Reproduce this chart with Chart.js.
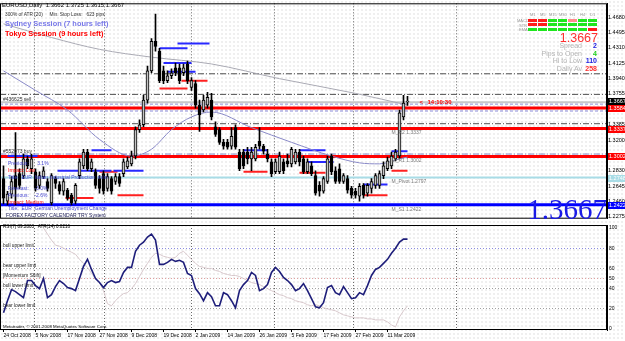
<!DOCTYPE html>
<html>
<head>
<meta charset="utf-8">
<title>EURUSD Daily</title>
<script src="https://cdn.jsdelivr.net/npm/chart.js@4.4.1/dist/chart.umd.min.js"></script>
<style>
  html, body { margin: 0; padding: 0; }
  body {
    width: 625px; height: 341px; overflow: hidden; position: relative; background: #fff;
    background-image: radial-gradient(circle, #dcdcdc 0.6px, transparent 0.8px);
    background-size: 4px 4px;
    font-family: "Liberation Sans", Arial, sans-serif;
  }
  canvas { position: absolute; left: 0; }
  #priceChart { top: 0; }
  #rsiChart { top: 221px; }
  .t { position: absolute; white-space: pre; line-height: 1; }
  #mainLayer { position: absolute; left: 0; top: 0; width: 607px; height: 220px; overflow: hidden; }
  .cell { position: absolute; width: 9px; height: 3px; }
  .hd { position: absolute; font-size: 4px; color: #999; }
  .lbl { right: 43px; font-size: 7px; color: #b4b4b4; }
  .val { right: 28px; font-size: 7px; font-weight: bold; }
  .cal { font-size: 5px; color: #4646d2; }
</style>
</head>
<body>
<canvas id="priceChart" width="625" height="222"></canvas>
<canvas id="rsiChart" width="625" height="120"></canvas>

<div id="mainLayer">
  <div class="t" style="left:2px;top:2px;font-size:6px;color:#000">EURUSD,Daily  1.3662 1.3725 1.3615 1.3667</div>
  <div class="t" style="left:5px;top:13px;font-size:4.8px;color:#333">300% of ATR (20)     Min. Stop Loss:   623 pips</div>
  <div class="t" style="left:5px;top:20px;font-size:7.4px;font-weight:bold;color:#7878e8">Sydney Session (7 hours left)</div>
  <div class="t" style="left:5px;top:30px;font-size:7.4px;font-weight:bold;color:#ff0000">Tokyo Session (9 hours left)</div>

  <div class="t cal" style="left:8px;top:161px">Previous:      3.1%</div>
  <div class="t cal" style="left:8px;top:168px;color:#ff0000">Impact: Low</div>
  <div class="t cal" style="left:8px;top:175px">Title:  EUR  Italian Industrial Production  m/m</div>
  <div class="t cal" style="left:8px;top:186px">Forecast:    -3.0%</div>
  <div class="t cal" style="left:8px;top:193px">Previous:    -2.6%</div>
  <div class="t cal" style="left:8px;top:200px;color:#ff0000">Impact: Medium</div>
  <div class="t cal" style="left:8px;top:206px">Title:  EUR  German Unemployment Change</div>
  <div class="t" style="left:6px;top:213px;font-size:5px;color:#20205a">FOREX FACTORY CALENDAR TRY System</div>

  <div class="t" style="right:0;top:195px;font-family:'Liberation Serif',serif;font-size:29px;color:#1a1ae6">1.3667</div>
</div>

<!-- timeframe signal box, top right -->
<div class="hd" style="left:530px;top:12px">M1</div>
<div class="hd" style="left:540px;top:12px">M5</div>
<div class="hd" style="left:549px;top:12px">M15</div>
<div class="hd" style="left:559px;top:12px">M30</div>
<div class="hd" style="left:570px;top:12px">H1</div>
<div class="hd" style="left:580px;top:12px">H4</div>
<div class="hd" style="left:590px;top:12px">D1</div>
<div class="hd" style="left:517px;top:18px">MACD</div>
<div class="hd" style="left:519px;top:22.5px">STR</div>
<div class="hd" style="left:519px;top:27px">EMA</div>
<div id="cells"></div>
<div class="t" style="right:27px;top:32px;font-size:12.5px;color:#ff3030">1.3667</div>
<div class="t lbl" style="top:42px">Spread</div>
<div class="t val" style="top:42px;color:#2020e0">2</div>
<div class="t lbl" style="top:49.5px">Pips to Open</div>
<div class="t val" style="top:49.5px;color:#20d020">4</div>
<div class="t lbl" style="top:57px">Hi to Low</div>
<div class="t val" style="top:57px;color:#2020e0">110</div>
<div class="t lbl" style="top:64.5px">Daily Av</div>
<div class="t val" style="top:64.5px;color:#ff3030">258</div>

<!-- indicator window texts -->
<div class="t" style="left:3px;top:225px;font-size:4.6px;color:#000">RSI(7) 89.2803   ATR(14) 0.0216</div>
<div class="t" style="left:3px;top:325px;font-size:4.4px;color:#000">Metatrader, © 2001-2008 MetaQuotes Software Corp.</div>

<script>
// daily candles, 24 Oct 2008 .. 12 Mar 2009
const opens = [1.2736,1.2465,1.2548,1.2771,1.2795,1.2771,1.2972,1.2854,1.2818,1.2654,
  1.2760,1.2701,1.2442,1.2736,1.2665,1.2583,1.2595,1.2536,1.2465,1.2771,
  1.2889,1.3054,1.2854,1.2818,1.2736,1.2795,1.2618,1.2736,1.2701,1.2760,
  1.2795,1.2877,1.2913,1.3007,1.3325,1.3384,1.3679,1.4032,1.4386,1.4268,
  1.4032,1.3914,1.3973,1.4068,1.4068,1.4009,1.4115,1.3832,1.3879,1.3620,
  1.3561,1.3620,1.3679,1.3360,1.3325,1.3172,1.3172,1.3125,1.3349,1.3054,
  1.3054,1.3054,1.2972,1.2972,1.3184,1.3125,1.3031,1.2936,1.2818,1.2818,
  1.2936,1.2948,1.2913,1.2936,1.3054,1.2972,1.2818,1.2889,1.2771,1.2654,
  1.2583,1.2701,1.3007,1.2830,1.2854,1.2701,1.2736,1.2618,1.2583,1.2524,
  1.2654,1.2559,1.2618,1.2654,1.2654,1.2771,1.2854,1.2889,1.2972,1.3007,
  1.3478,1.3662];
const highs = [1.2889,1.2583,1.2760,1.3290,1.2854,1.3031,1.3007,1.3031,1.2854,1.2818,
  1.2877,1.2736,1.2795,1.2760,1.2701,1.2736,1.2618,1.2559,1.2677,1.2972,
  1.3089,1.3089,1.2972,1.2854,1.2771,1.2830,1.2795,1.2760,1.2795,1.2795,
  1.2972,1.2995,1.3066,1.3360,1.3443,1.3738,1.4091,1.4421,1.4716,1.4303,
  1.4091,1.4032,1.4056,1.4126,1.4115,1.4115,1.4150,1.3950,1.3914,1.3679,
  1.3738,1.3773,1.3761,1.3419,1.3349,1.3207,1.3207,1.3349,1.3384,1.3089,
  1.3089,1.3113,1.3113,1.3148,1.3349,1.3148,1.3089,1.2972,1.2972,1.3054,
  1.2972,1.3031,1.3113,1.3089,1.3089,1.3007,1.2972,1.2936,1.2830,1.2701,
  1.2760,1.3007,1.3031,1.2877,1.2913,1.2795,1.2771,1.2642,1.2618,1.2677,
  1.2677,1.2677,1.2736,1.2795,1.2830,1.2936,1.2995,1.3054,1.3089,1.3561,
  1.3738,1.3725];
const lows = [1.2430,1.2418,1.2501,1.2418,1.2618,1.2736,1.2854,1.2795,1.2583,1.2618,
  1.2736,1.2583,1.2418,1.2618,1.2548,1.2536,1.2477,1.2418,1.2430,1.2736,
  1.2854,1.2830,1.2818,1.2618,1.2559,1.2548,1.2583,1.2548,1.2665,1.2642,
  1.2760,1.2854,1.2889,1.2972,1.3290,1.3360,1.3643,1.4009,1.4268,1.3891,
  1.3879,1.3891,1.3938,1.3973,1.3879,1.3973,1.3879,1.3797,1.3584,1.3302,
  1.3537,1.3584,1.3443,1.3243,1.3148,1.3089,1.3089,1.3089,1.3089,1.2830,
  1.2854,1.2913,1.2830,1.2948,1.3089,1.3031,1.2936,1.2760,1.2795,1.2795,
  1.2795,1.2877,1.2877,1.2913,1.2889,1.2795,1.2795,1.2771,1.2536,1.2524,
  1.2559,1.2677,1.2783,1.2677,1.2677,1.2677,1.2559,1.2501,1.2501,1.2465,
  1.2501,1.2524,1.2559,1.2618,1.2618,1.2736,1.2830,1.2854,1.2948,1.2972,
  1.3443,1.3615];
const closes = [1.2501,1.2548,1.2701,1.2618,1.2654,1.2972,1.2889,1.2972,1.2618,1.2771,
  1.2830,1.2618,1.2771,1.2677,1.2583,1.2701,1.2501,1.2442,1.2654,1.2936,
  1.3054,1.2854,1.2936,1.2654,1.2618,1.2583,1.2760,1.2583,1.2760,1.2677,
  1.2936,1.2948,1.3007,1.3325,1.3384,1.3679,1.4032,1.4386,1.4327,1.3914,
  1.3914,1.3973,1.4009,1.4009,1.3914,1.4068,1.3914,1.3914,1.3620,1.3502,
  1.3679,1.3714,1.3478,1.3266,1.3172,1.3125,1.3113,1.3243,1.3113,1.2854,
  1.2889,1.2972,1.3054,1.3113,1.3125,1.3066,1.2972,1.2795,1.2936,1.3007,
  1.2830,1.2913,1.3089,1.3054,1.2936,1.2818,1.2936,1.2795,1.2559,1.2583,
  1.2736,1.2972,1.2818,1.2701,1.2701,1.2771,1.2595,1.2536,1.2536,1.2642,
  1.2536,1.2654,1.2701,1.2771,1.2795,1.2889,1.2948,1.3007,1.3054,1.3526,
  1.3643,1.3667];

// moving averages read at a few bars
const maSlowBars = [0, 12, 24, 37, 52, 69, 88, 101];
const maSlow = [1.4598, 1.4433, 1.4291, 1.4197, 1.4115, 1.3938, 1.3761, 1.3620];
const maFastBars = [0, 8, 16, 24, 32, 37, 42, 47, 52, 62, 72, 82, 89, 94, 99, 101];
const maFast = [1.4032, 1.3797, 1.3561, 1.3207, 1.3007, 1.3089, 1.3325, 1.3478, 1.3537, 1.3349, 1.3172, 1.3007, 1.2925, 1.2913, 1.2972, 1.2995];

// indicator window
const rsi = [16,28,39,37,34,31,48,48,43,40,
  50,31,34,42,48,45,41,40,38,50,
  62,69,59,50,46,41,46,48,46,47,
  56,61,61,77,83,86,91,94,88,64,
  64,66,69,67,68,66,55,53,40,35,
  28,36,32,23,23,36,34,28,21,38,
  44,48,56,53,38,40,44,56,61,57,
  51,48,44,38,40,45,38,30,22,21,
  26,41,43,36,34,42,36,30,31,36,
  34,43,53,59,61,65,69,75,80,86,
  89,89];
const atr = [null,null,null,null,null,null,null,null,null,null,
  100,94,88,83,82,80,78,76,74,69,
  65,61,55,50,46,38,25,23,28,32,
  35,36,40,45,52,59,65,71,75,74,
  72,71,70,71,75,77,73,69,65,62,
  61,60,60,58,57,55,54,53,53,52,
  50,48,46,45,44,42,40,38,36,34,
  33,31,30,28,27,26,24,23,24,23,
  21,20,19,18,16,14,13,12,11,11,
  11,10,10,9,9,9,7,4,2,12,
  18,23];
const rsiLevels = [80, 60, 50, 40, 20];
const rsiLevelNames = ['bull upper limit', 'bear upper limit', '[Momentum Shift]', 'bull lower limit', 'bear lower limit'];
const rsiTicks = [0, 20, 40, 50, 60, 80, 100];

// price levels
const currentPrice = 1.3667;
const redLevels = [1.3584, 1.3337, 1.3002];
const pivotLevel = 1.2748;
const supportLevel = 1.2422;
const dashDotLevels = [1.3997, 1.3749, 1.3396];
const orderLevels = [1.3655, 1.3031];
const orderNames = ['#436625 sell', '#552073 buy'];
const dottedLevels = [1.3632, 1.3549];
const pivotNotes = ['M_R2 1.3337', 'M_R1 1.3002', 'M_Pivot 1.2797', 'M_S1 1.2422'];
const pivotNoteLevels = [1.3337, 1.3002, pivotLevel, supportLevel];
const noteBar = 97;
const clockText = '14:10:30';
const clockBar = 104;

// range segments [fromBar, toBar, price]
const rangeHighs = [[1, 8.5, 1.3007], [22, 27, 1.3078], [13.5, 27, 1.2830], [27.5, 35, 1.2830],
  [39, 46, 1.4303], [43.5, 51.5, 1.4362], [40, 47, 1.4126], [41, 48, 1.4021],
  [60, 66, 1.3078], [74, 80.5, 1.3078], [76, 82.5, 1.2936], [90, 96, 1.2665], [97, 101, 1.3066]];
const rangeLows = [[15.5, 22.5, 1.2501], [24, 28.5, 1.2818], [28.5, 35, 1.2536], [44.5, 51, 1.3914],
  [39, 46, 1.3820], [60, 66, 1.2818], [74, 80.5, 1.2807], [90, 96, 1.2536], [97, 101, 1.2830]];

// axes
const priceTicks = [1.2275, 1.2460, 1.2645, 1.2830, 1.3015, 1.3200, 1.3385, 1.3570, 1.3755, 1.3940, 1.4125, 1.4310, 1.4495, 1.4680];
const dateBars = [0, 8, 16, 24, 32, 40, 48, 56, 64, 72, 80, 88, 96];
const dateLabels = ['24 Oct 2008', '5 Nov 2008', '17 Nov 2008', '27 Nov 2008', '9 Dec 2008', '19 Dec 2008',
  '2 Jan 2009', '14 Jan 2009', '26 Jan 2009', '5 Feb 2009', '17 Feb 2009', '27 Feb 2009', '11 Mar 2009'];
const gridBars = [7.75, 25.25, 47, 67.75, 87.5, 113.25];
const signalRows = [['r', 'r', 'g', 'g', 'p', 'g', 'g'], ['r', 'r', 'g', 'g', 'g', 'g', 'g'], ['g', 'g', 'g', 'g', 'g', 'g', 'r']];

const xMin = -0.875, xMax = 150.875;
Chart.defaults.font.family = '"Liberation Sans", Arial, sans-serif';

// signal grid cells
const cellColors = { r: '#ff1c1c', g: '#1ee61e', p: '#ff8c8c' };
const cellTop = [18.5, 23, 27.5];
signalRows.forEach((row, r) => row.forEach((c, k) => {
  const d = document.createElement('div');
  d.className = 'cell';
  d.style.left = (528 + k * 10) + 'px';
  d.style.top = cellTop[r] + 'px';
  d.style.background = cellColors[c];
  document.getElementById('cells').appendChild(d);
}));

const bars = opens.map((_, i) => i);

function flat(price, color, width, dash, order) {
  return { type: 'line', data: [{ x: xMin, y: price }, { x: xMax, y: price }], borderColor: color,
    borderWidth: width, borderDash: dash || [], pointRadius: 0, order: order };
}
function seg(s, color, width) {
  return { type: 'line', data: [{ x: s[0], y: s[2] }, { x: s[1], y: s[2] }], borderColor: color,
    borderWidth: width, pointRadius: 0, order: 4 };
}

const frame = {
  id: 'frame',
  afterDraw(chart) {
    const { ctx, chartArea: a } = chart;
    ctx.save();
    ctx.strokeStyle = '#000';
    ctx.lineWidth = 1;
    ctx.strokeRect(a.left + 0.5, a.top + 0.5, a.width - 1, a.height - 1);
    ctx.restore();
  }
};

const priceNotes = {
  id: 'priceNotes',
  afterDraw(chart) {
    const { ctx, chartArea, scales: { x, y } } = chart;
    ctx.save();
    ctx.textBaseline = 'top';
    ctx.font = '5px "Liberation Sans"';
    ctx.fillStyle = '#7c7c7c';
    pivotNotes.forEach((t, i) => ctx.fillText(t, x.getPixelForValue(noteBar), y.getPixelForValue(pivotNoteLevels[i]) + 2));
    ctx.fillStyle = '#333';
    ctx.textBaseline = 'bottom';
    orderNames.forEach((t, i) => ctx.fillText(t, 3, y.getPixelForValue(orderLevels[i])));
    // clock
    ctx.textBaseline = 'middle';
    ctx.fillStyle = '#ff0000';
    ctx.font = 'bold 6px "Liberation Sans"';
    const cy = y.getPixelForValue(currentPrice) + 1;
    ctx.fillText('<', x.getPixelForValue(clockBar), cy);
    ctx.fillText(clockText, x.getPixelForValue(clockBar) + 8, cy);
    // axis tags
    const tags = [[currentPrice, '#000'], [redLevels[0], '#ff0000'], [redLevels[1], '#ff0000'], [redLevels[2], '#ff0000'],
      [pivotLevel, '#a8dce6'], [supportLevel, '#0000ff']];
    ctx.font = '5.5px "Liberation Sans"';
    tags.forEach(([p, c]) => {
      const py = Math.round(y.getPixelForValue(p));
      ctx.fillStyle = c;
      ctx.fillRect(chartArea.right + 1, py - 3, 17, 7);
      ctx.fillStyle = '#fff';
      ctx.fillText(p.toFixed(4), chartArea.right + 2, py + 0.5);
    });
    ctx.restore();
  }
};

new Chart(document.getElementById('priceChart'), {
  type: 'bar',
  data: {
    datasets: [
      { data: bars.map(i => ({ x: i, y: [opens[i], closes[i]] })), backgroundColor: bars.map(i => closes[i] >= opens[i] ? '#c4c4c4' : '#000'),
        borderColor: '#000', borderWidth: 1, borderSkipped: false, barThickness: 3, grouped: false, order: 0 },
      { data: bars.map(i => ({ x: i, y: [lows[i], highs[i]] })), backgroundColor: '#000', barThickness: 1, grouped: false, order: 1 },
      { type: 'line', data: maSlowBars.map((b, i) => ({ x: b, y: maSlow[i] })), borderColor: '#aaaab4', borderWidth: 1,
        pointRadius: 0, cubicInterpolationMode: 'monotone', order: 2 },
      { type: 'line', data: maFastBars.map((b, i) => ({ x: b, y: maFast[i] })), borderColor: '#8a8ac8', borderWidth: 1,
        pointRadius: 0, cubicInterpolationMode: 'monotone', order: 2 },
      ...rangeHighs.map(s => seg(s, '#2828ff', 2)),
      ...rangeLows.map(s => seg(s, '#ff2020', 2)),
      ...redLevels.map(p => flat(p, '#ff0000', 3, [], 6)),
      flat(pivotLevel, '#a8dce6', 2, [], 6),
      flat(supportLevel, '#0000ff', 3, [], 6),
      ...dashDotLevels.map(p => flat(p, '#505050', 1, [6, 2, 1, 2], 7)),
      flat(orderLevels[0], '#c8c8c8', 2, [], 7),
      flat(orderLevels[1], '#8a8ac8', 1, [6, 2, 1, 2], 7),
      ...dottedLevels.map(p => flat(p, '#8a8ad8', 1, [3, 2], 7))
    ]
  },
  options: {
    responsive: false, animation: false, devicePixelRatio: 1,
    layout: { padding: { top: 1, bottom: 1, left: 0, right: 0 } },
    plugins: { legend: { display: false }, tooltip: { enabled: false } },
    scales: {
      x: { type: 'linear', min: xMin, max: xMax, position: 'bottom', offset: false,
        afterBuildTicks: s => { s.ticks = gridBars.map(v => ({ value: v })); },
        afterFit: s => { s.height = 0; },
        ticks: { display: false },
        grid: { color: '#6a6a6a', drawTicks: false, offset: false },
        border: { display: false, dash: [1, 2] } },
      y: { type: 'linear', position: 'right', min: 1.2253, max: 1.4845,
        afterBuildTicks: s => { s.ticks = priceTicks.map(v => ({ value: v })); },
        afterFit: s => { s.width = 18; },
        ticks: { font: { size: 5.5 }, color: '#000', padding: 0, callback: v => v.toFixed(4) },
        grid: { drawOnChartArea: false, tickLength: 1, color: '#000' },
        border: { display: true, color: '#000' } }
    }
  },
  plugins: [frame, priceNotes]
});

const rsiNotes = {
  id: 'rsiNotes',
  afterDraw(chart) {
    const { ctx, scales: { y } } = chart;
    ctx.save();
    ctx.font = '4.8px "Liberation Sans"';
    ctx.fillStyle = '#222';
    ctx.textBaseline = 'bottom';
    rsiLevels.forEach((v, i) => ctx.fillText(rsiLevelNames[i], 3, y.getPixelForValue(v) - 0.5));
    ctx.restore();
  }
};
const rsiGridColor = v => v === 80 ? '#8c8ce0' : v === 50 ? '#e0a0a0' : (v === 0 || v === 100) ? 'rgba(0,0,0,0)' : '#a0a0a0';

new Chart(document.getElementById('rsiChart'), {
  type: 'line',
  data: {
    datasets: [
      { data: bars.map(i => ({ x: i, y: atr[i] })), borderColor: '#d8c8cc', borderWidth: 1, pointRadius: 0, order: 2 },
      { data: bars.map(i => ({ x: i, y: rsi[i] })), borderColor: '#1e1e7a', borderWidth: 1.6, pointRadius: 0, order: 1 }
    ]
  },
  options: {
    responsive: false, animation: false, devicePixelRatio: 1,
    layout: { padding: { top: 2, bottom: 0, left: 0, right: 0 } },
    plugins: { legend: { display: false }, tooltip: { enabled: false } },
    scales: {
      x: { type: 'linear', min: xMin, max: xMax, position: 'bottom',
        afterBuildTicks: s => { s.ticks = dateBars.map(v => ({ value: v })); },
        afterFit: s => { s.height = 11; },
        ticks: { autoSkip: false, maxRotation: 0, align: 'start', padding: 1, font: { size: 5 }, color: '#000',
          callback: v => dateLabels[dateBars.indexOf(v)] },
        grid: { drawOnChartArea: false, tickLength: 2, color: '#000' },
        border: { display: false } },
      xg: { type: 'linear', min: xMin, max: xMax, position: 'bottom',
        afterBuildTicks: s => { s.ticks = gridBars.map(v => ({ value: v })); },
        afterFit: s => { s.height = 0; },
        ticks: { display: false },
        grid: { color: '#6a6a6a', drawTicks: false },
        border: { display: false, dash: [1, 2] } },
      y: { type: 'linear', position: 'right', min: -1, max: 103,
        afterBuildTicks: s => { s.ticks = rsiTicks.map(v => ({ value: v })); },
        afterFit: s => { s.width = 18; },
        ticks: { font: { size: 5 }, color: '#000', padding: 1 },
        grid: { color: c => rsiGridColor(c.tick.value), tickLength: 1 },
        border: { display: true, color: '#000', dash: [1, 2] } }
    }
  },
  plugins: [frame, rsiNotes]
});
</script>
</body>
</html>
